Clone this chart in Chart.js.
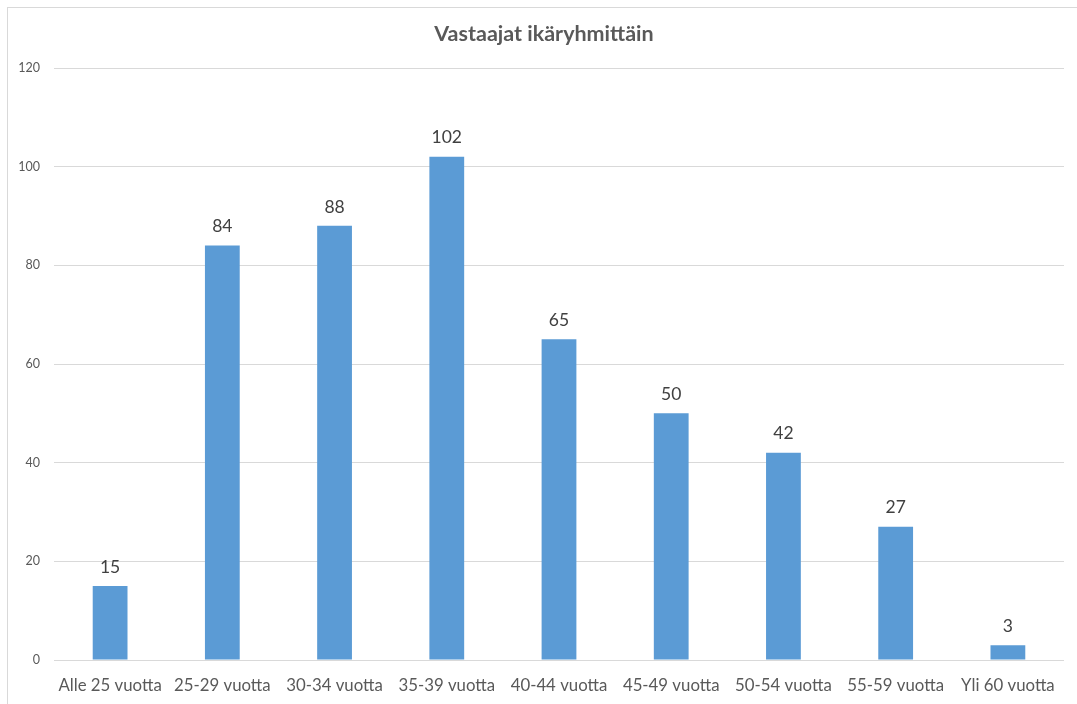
<!DOCTYPE html>
<html>
<head>
<meta charset="utf-8">
<script src="https://cdn.jsdelivr.net/npm/chart.js@4"></script>
<style>
html,body{margin:0;padding:0;background:#fff;overflow:hidden;width:1077px;height:704px;}
#frame{position:absolute;left:7px;top:7px;width:1080px;height:710px;border-top:1px solid #d9d9d9;border-left:1px solid #d9d9d9;box-sizing:border-box;}
#wrap{position:absolute;left:7px;top:0;width:1074px;height:704px;}
</style>
</head>
<body>
<div id="frame"></div>
<div id="wrap"><canvas id="c" width="1074" height="704"></canvas></div>
<script>
const categories = ["Alle 25 vuotta","25-29 vuotta","30-34 vuotta","35-39 vuotta","40-44 vuotta","45-49 vuotta","50-54 vuotta","55-59 vuotta","Yli 60 vuotta"];
const values = [15,84,88,102,65,50,42,27,3];
const yTicks = [0,20,40,60,80,100,120];
const titleText = "Vastaajat ikäryhmittäin";

const FONT = "Lato, 'Open Sans', sans-serif";

const labelPlugin = {
  id: 'barLabels',
  afterLayout(chart) {
    // center the title over the whole canvas rather than the padded box
    if (chart.titleBlock) {
      chart.titleBlock.left = 0;
      chart.titleBlock.right = chart.width;
      chart.titleBlock.width = chart.width;
    }
  },
  afterDatasetsDraw(chart) {
    const ctx = chart.ctx;
    const meta = chart.getDatasetMeta(0);
    ctx.save();
    ctx.fillStyle = '#404040';
    ctx.font = "17.5px " + FONT;
    ctx.textAlign = 'center';
    ctx.textBaseline = 'middle';
    meta.data.forEach((bar, i) => {
      ctx.fillText(String(values[i]), bar.x, bar.y - 19);
    });
    ctx.restore();
  }
};

new Chart(document.getElementById('c'), {
  type: 'bar',
  data: {
    labels: categories,
    datasets: [{
      data: values,
      backgroundColor: '#5B9BD5',
      borderWidth: 0,
      barPercentage: 0.31,
      categoryPercentage: 1.0
    }]
  },
  options: {
    responsive: false,
    animation: false,
    layout: { padding: { left: 0, right: 17, top: 0, bottom: 0 } },
    plugins: {
      legend: { display: false },
      tooltip: { enabled: false },
      title: {
        display: true,
        text: titleText,
        color: '#595959',
        font: { family: FONT, size: 21.5, weight: 'bold' },
        padding: { top: 21, bottom: 21.2 }
      }
    },
    scales: {
      x: {
        grid: { display: false, drawTicks: false },
        border: { display: false },
        ticks: { color: '#595959', font: { family: FONT, size: 16.8 }, padding: 16, maxRotation: 0, autoSkip: false },
        afterFit(s) { s.height = 44; }
      },
      y: {
        min: 0, max: 120,
        afterBuildTicks(s) { s.ticks = yTicks.map(v => ({ value: v })); },
        grid: { color: '#d9d9d9', lineWidth: 1, drawTicks: false },
        border: { display: false },
        ticks: { color: '#595959', font: { family: FONT, size: 12.5 }, padding: 14 },
        afterFit(s) { s.width = 47; }
      }
    }
  },
  plugins: [labelPlugin]
});
</script>
</body>
</html>
